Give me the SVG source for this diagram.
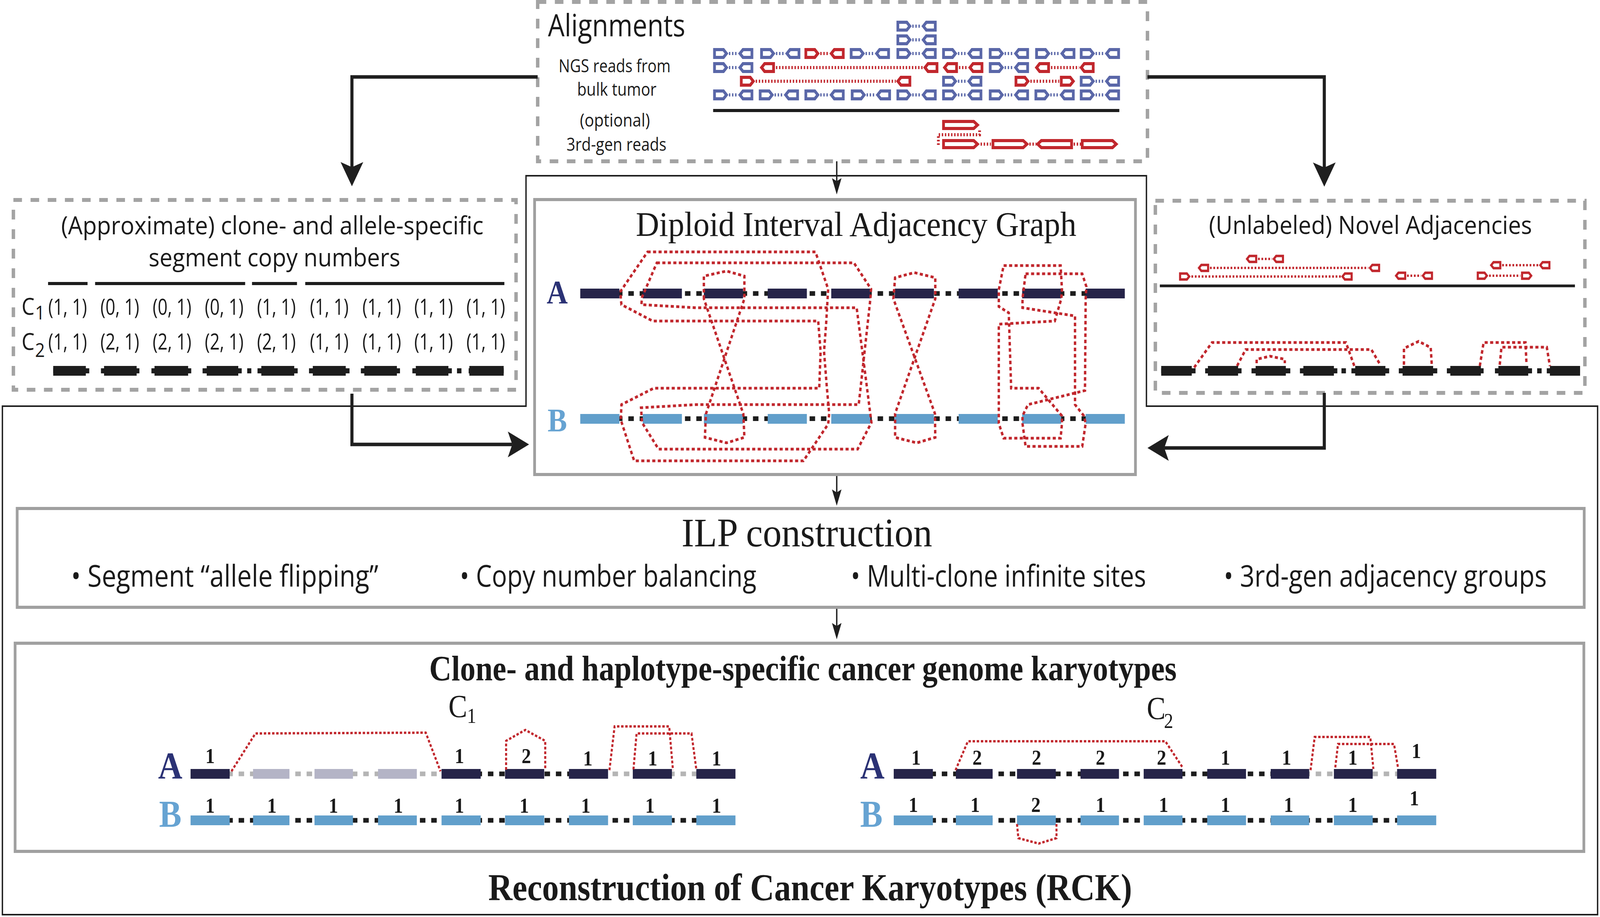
<svg xmlns="http://www.w3.org/2000/svg" width="4660" height="2348" viewBox="0 0 4660 2348" preserveAspectRatio="none">
<style>
:root{width:100vw;height:100vh}
.dbox{fill:none;stroke:#a3a3a3;stroke-width:10;stroke-dasharray:25 25}
.sbox{fill:none;stroke:#a0a0a0;stroke-width:8}
.frame{fill:none;stroke:#1f1f1f;stroke-width:4}
.arw{fill:none;stroke:#1f1f1f;stroke-width:9}
.arws{fill:none;stroke:#1f1f1f;stroke-width:4}
.sans{font-family:"Open Sans","Noto Sans","Liberation Sans",sans-serif;fill:#1a1a1a}
.serif{font-family:"Liberation Serif","DejaVu Serif",serif;fill:#1a1a1a}
.adj{fill:none;stroke:#c1272d;stroke-width:7;stroke-dasharray:9 7}
.adjk{fill:none;stroke:#c1272d;stroke-width:6;stroke-dasharray:7 5}
.navy{fill:#262449}
.lblue{fill:#619fcb}
.gseg{fill:#b4b4c6}
.bk{fill:#1d1d1d}
.dots{fill:none;stroke:#1d1d1d;stroke-width:12;stroke-dasharray:16 17}
.gdots{fill:none;stroke:#b5b5b5;stroke-width:12;stroke-dasharray:16 17}
.rb{fill:#fff;stroke:#5a67a8;stroke-width:8}
.rr{fill:#fff;stroke:#c1272d;stroke-width:8}
.pcb{fill:none;stroke:#5a67a8;stroke-width:8;stroke-dasharray:4 5}
.pcr{fill:none;stroke:#c1272d;stroke-width:8;stroke-dasharray:4 5}
.pcs{fill:none;stroke:#c1272d;stroke-width:6;stroke-dasharray:5 5}
.line{fill:none;stroke:#1d1d1d}
.labA{font-family:"Liberation Serif","DejaVu Serif",serif;font-weight:bold;fill:#2b3275}
.labB{font-family:"Liberation Serif","DejaVu Serif",serif;font-weight:bold;fill:#66a3d2}
.num{font-family:"Liberation Serif","DejaVu Serif",serif;font-weight:bold;fill:#1a1a1a;font-size:55px;text-anchor:middle}
.val{font-family:"Open Sans","Noto Sans","Liberation Sans",sans-serif;fill:#1a1a1a;font-size:56px;text-anchor:middle}
</style>
<defs>
<path id="rR" d="M4,-10 H30 L39,0 L30,10 H4 Z"/>
<path id="rL" d="M39,-10 H13 L4,0 L13,10 H39 Z"/>
<path id="lR" d="M4,-9 H92 L103,0 L92,9 H4 Z"/>
<path id="lL" d="M103,-9 H15 L4,0 L15,9 H103 Z"/>
<marker id="ah" viewBox="0 0 62 66" refX="13" refY="33" markerWidth="62" markerHeight="66" markerUnits="userSpaceOnUse" orient="auto"><path d="M0,0 L62,33 L0,66 L13,33 Z" fill="#1f1f1f"/></marker>
<marker id="ahs" viewBox="0 0 42 28" refX="8" refY="14" markerWidth="42" markerHeight="28" markerUnits="userSpaceOnUse" orient="auto"><path d="M0,0 L42,14 L0,28 L8,14 Z" fill="#1f1f1f"/></marker>
</defs>
<rect width="4660" height="2348" fill="#ffffff"/>

<g id="rck-frame">
<path class="frame" d="M1532,450 H3339 V1040 H4653 V2342 H7 V1040 H1532 Z"/>
<text class="serif" x="1422" y="2305" font-size="98" font-weight="bold" textLength="1875" lengthAdjust="spacingAndGlyphs">Reconstruction of Cancer Karyotypes (RCK)</text>
</g>

<g id="alignments">
<rect class="dbox" x="1566" y="5" width="1776" height="408"/>
<text class="sans" x="1596" y="93" font-size="78" textLength="400" lengthAdjust="spacingAndGlyphs">Alignments</text>
<text class="sans" x="1627" y="185" font-size="46" textLength="326" lengthAdjust="spacingAndGlyphs">NGS reads from</text>
<text class="sans" x="1681" y="245" font-size="46" textLength="231" lengthAdjust="spacingAndGlyphs">bulk tumor</text>
<text class="sans" x="1689" y="324" font-size="46" textLength="204" lengthAdjust="spacingAndGlyphs">(optional)</text>
<text class="sans" x="1650" y="386" font-size="46" textLength="291" lengthAdjust="spacingAndGlyphs">3rd-gen reads</text>
<use href="#rR" x="2611" y="67" class="rb"/><use href="#rL" x="2685" y="67" class="rb"/><path class="pcb" d="M2657,67 H2683"/>
<use href="#rR" x="2611" y="102" class="rb"/><use href="#rL" x="2685" y="102" class="rb"/><path class="pcb" d="M2657,102 H2683"/>
<use href="#rR" x="2077" y="137" class="rb"/><use href="#rL" x="2151" y="137" class="rb"/><path class="pcb" d="M2123,137 H2149"/>
<use href="#rR" x="2214" y="137" class="rb"/><use href="#rL" x="2288" y="137" class="rb"/><path class="pcb" d="M2260,137 H2286"/>
<use href="#rR" x="2343" y="137" class="rr"/><use href="#rL" x="2417" y="137" class="rr"/><path class="pcr" d="M2389,137 H2415"/>
<use href="#rR" x="2475" y="137" class="rb"/><use href="#rL" x="2549" y="137" class="rb"/><path class="pcb" d="M2521,137 H2547"/>
<use href="#rR" x="2611" y="137" class="rb"/><use href="#rL" x="2685" y="137" class="rb"/><path class="pcb" d="M2657,137 H2683"/>
<use href="#rR" x="2744" y="137" class="rb"/><use href="#rL" x="2818" y="137" class="rb"/><path class="pcb" d="M2790,137 H2816"/>
<use href="#rR" x="2880" y="137" class="rb"/><use href="#rL" x="2954" y="137" class="rb"/><path class="pcb" d="M2926,137 H2952"/>
<use href="#rR" x="3015" y="137" class="rb"/><use href="#rL" x="3089" y="137" class="rb"/><path class="pcb" d="M3061,137 H3087"/>
<use href="#rR" x="3145" y="137" class="rb"/><use href="#rL" x="3219" y="137" class="rb"/><path class="pcb" d="M3191,137 H3217"/>
<use href="#rR" x="2077" y="173" class="rb"/><use href="#rL" x="2151" y="173" class="rb"/><path class="pcb" d="M2123,173 H2149"/>
<use href="#rL" x="2214" y="173" class="rr"/><use href="#rL" x="2690" y="173" class="rr"/><path class="pcr" d="M2260,173 H2688"/>
<use href="#rL" x="2747" y="173" class="rr"/><use href="#rL" x="2821" y="173" class="rr"/><path class="pcr" d="M2793,173 H2819"/>
<use href="#rR" x="2880" y="173" class="rb"/><use href="#rL" x="2954" y="173" class="rb"/><path class="pcb" d="M2926,173 H2952"/>
<use href="#rL" x="3015" y="173" class="rr"/><use href="#rL" x="3145" y="173" class="rr"/><path class="pcr" d="M3061,173 H3143"/>
<use href="#rR" x="2155" y="208" class="rr"/><use href="#rL" x="2611" y="208" class="rr"/><path class="pcr" d="M2201,208 H2609"/>
<use href="#rR" x="2744" y="208" class="rb"/><use href="#rL" x="2818" y="208" class="rb"/><path class="pcb" d="M2790,208 H2816"/>
<use href="#rR" x="2955" y="208" class="rr"/><use href="#rR" x="3087" y="208" class="rr"/><path class="pcr" d="M3001,208 H3085"/>
<use href="#rR" x="3145" y="208" class="rb"/><use href="#rL" x="3219" y="208" class="rb"/><path class="pcb" d="M3191,208 H3217"/>
<use href="#rR" x="2077" y="243" class="rb"/><use href="#rL" x="2151" y="243" class="rb"/><path class="pcb" d="M2123,243 H2149"/>
<use href="#rR" x="2210" y="243" class="rb"/><use href="#rL" x="2284" y="243" class="rb"/><path class="pcb" d="M2256,243 H2282"/>
<use href="#rR" x="2343" y="243" class="rb"/><use href="#rL" x="2417" y="243" class="rb"/><path class="pcb" d="M2389,243 H2415"/>
<use href="#rR" x="2478" y="243" class="rb"/><use href="#rL" x="2552" y="243" class="rb"/><path class="pcb" d="M2524,243 H2550"/>
<use href="#rR" x="2611" y="243" class="rb"/><use href="#rL" x="2685" y="243" class="rb"/><path class="pcb" d="M2657,243 H2683"/>
<use href="#rR" x="2744" y="243" class="rb"/><use href="#rL" x="2818" y="243" class="rb"/><path class="pcb" d="M2790,243 H2816"/>
<use href="#rR" x="2880" y="243" class="rb"/><use href="#rL" x="2954" y="243" class="rb"/><path class="pcb" d="M2926,243 H2952"/>
<use href="#rR" x="3013" y="243" class="rb"/><use href="#rL" x="3087" y="243" class="rb"/><path class="pcb" d="M3059,243 H3085"/>
<use href="#rR" x="3145" y="243" class="rb"/><use href="#rL" x="3219" y="243" class="rb"/><path class="pcb" d="M3191,243 H3217"/>
<path class="line" stroke-width="8" d="M2077,283 H3260"/>
<use href="#lR" x="2744" y="320" class="rr"/>
<path class="pcr" d="M2853,334 V345 H2733 V372"/>
<use href="#lR" x="2744" y="369" class="rr"/>
<use href="#lR" x="2888" y="369" class="rr"/>
<use href="#lL" x="3018" y="369" class="rr"/>
<use href="#lR" x="3148" y="369" class="rr"/>
<path class="pcr" d="M2856,369 H2886 M2998,369 H3018 M3127,369 H3148"/>
</g>

<g id="copy-numbers">
<rect class="dbox" x="39" y="512" width="1464" height="486"/>
<text class="sans" x="178" y="600" font-size="64" textLength="1230" lengthAdjust="spacingAndGlyphs">(Approximate) clone- and allele-specific</text>
<text class="sans" x="433" y="682" font-size="64" textLength="733" lengthAdjust="spacingAndGlyphs">segment copy numbers</text>
<path class="line" stroke-width="8" d="M140,726 H255 M277,726 H714 M734,726 H865 M889,726 H1469"/>
<text class="sans" x="63" y="806" font-size="60">C</text><text class="sans" x="102" y="818" font-size="50">1</text>
<text class="sans" x="63" y="896" font-size="60">C</text><text class="sans" x="102" y="914" font-size="50">2</text>
<g class="val">
<text x="197" y="806" textLength="113" lengthAdjust="spacingAndGlyphs">(1, 1)</text>
<text x="349" y="806" textLength="113" lengthAdjust="spacingAndGlyphs">(0, 1)</text>
<text x="501" y="806" textLength="113" lengthAdjust="spacingAndGlyphs">(0, 1)</text>
<text x="653" y="806" textLength="113" lengthAdjust="spacingAndGlyphs">(0, 1)</text>
<text x="805" y="806" textLength="113" lengthAdjust="spacingAndGlyphs">(1, 1)</text>
<text x="959" y="806" textLength="113" lengthAdjust="spacingAndGlyphs">(1, 1)</text>
<text x="1112" y="806" textLength="113" lengthAdjust="spacingAndGlyphs">(1, 1)</text>
<text x="1263" y="806" textLength="113" lengthAdjust="spacingAndGlyphs">(1, 1)</text>
<text x="1415" y="806" textLength="113" lengthAdjust="spacingAndGlyphs">(1, 1)</text>
<text x="197" y="895" textLength="113" lengthAdjust="spacingAndGlyphs">(1, 1)</text>
<text x="349" y="895" textLength="113" lengthAdjust="spacingAndGlyphs">(2, 1)</text>
<text x="501" y="895" textLength="113" lengthAdjust="spacingAndGlyphs">(2, 1)</text>
<text x="653" y="895" textLength="113" lengthAdjust="spacingAndGlyphs">(2, 1)</text>
<text x="805" y="895" textLength="113" lengthAdjust="spacingAndGlyphs">(2, 1)</text>
<text x="959" y="895" textLength="113" lengthAdjust="spacingAndGlyphs">(1, 1)</text>
<text x="1112" y="895" textLength="113" lengthAdjust="spacingAndGlyphs">(1, 1)</text>
<text x="1263" y="895" textLength="113" lengthAdjust="spacingAndGlyphs">(1, 1)</text>
<text x="1415" y="895" textLength="113" lengthAdjust="spacingAndGlyphs">(1, 1)</text>
</g>
<g class="bk">
<rect x="155" y="943" width="105" height="13"/><rect x="155" y="937" width="95" height="25"/>
<rect x="294" y="943" width="112" height="13"/><rect x="303" y="937" width="95" height="25"/>
<rect x="441" y="943" width="116" height="13"/><rect x="450" y="937" width="98" height="25"/>
<rect x="590" y="943" width="114" height="13"/><rect x="602" y="937" width="92" height="25"/>
<rect x="720" y="943" width="12" height="13"/>
<rect x="750" y="943" width="117" height="13"/><rect x="761" y="937" width="96" height="25"/>
<rect x="900" y="943" width="118" height="13"/><rect x="911" y="937" width="96" height="25"/>
<rect x="1051" y="943" width="114" height="13"/><rect x="1061" y="937" width="95" height="25"/>
<rect x="1201" y="943" width="115" height="13"/><rect x="1211" y="937" width="95" height="25"/>
<rect x="1331" y="943" width="13" height="13"/>
<rect x="1365" y="943" width="102" height="13"/><rect x="1367" y="937" width="100" height="25"/>
</g>
</g>

<g id="novel-adjacencies">
<rect class="dbox" x="3365" y="514" width="1251" height="492"/>
<text class="sans" x="3521" y="599" font-size="64" textLength="941" lengthAdjust="spacingAndGlyphs">(Unlabeled) Novel Adjacencies</text>
<use href="#rL" transform="translate(3629,663) scale(0.76)" class="rr"/><use href="#rL" transform="translate(3707,663) scale(0.76)" class="rr"/><path class="pcs" d="M3664,663 H3705"/>
<use href="#rL" transform="translate(3489,686) scale(0.76)" class="rr"/><use href="#rL" transform="translate(3987,686) scale(0.76)" class="rr"/><path class="pcs" d="M3524,686 H3985"/>
<use href="#rR" transform="translate(3434,708) scale(0.76)" class="rr"/><use href="#rL" transform="translate(3907,708) scale(0.76)" class="rr"/><path class="pcs" d="M3470,708 H3905"/>
<use href="#rL" transform="translate(4063,706) scale(0.76)" class="rr"/><use href="#rL" transform="translate(4141,706) scale(0.76)" class="rr"/><path class="pcs" d="M4098,706 H4139"/>
<use href="#rL" transform="translate(4340,679) scale(0.76)" class="rr"/><use href="#rL" transform="translate(4483,679) scale(0.76)" class="rr"/><path class="pcs" d="M4375,679 H4481"/>
<use href="#rR" transform="translate(4301,706) scale(0.76)" class="rr"/><use href="#rR" transform="translate(4430,706) scale(0.76)" class="rr"/><path class="pcs" d="M4337,706 H4428"/>
<path class="line" stroke-width="7" d="M3378,732 H4587"/>
<path class="adj" d="M3478,941 L3530,877 L3920,877 L3946,941"/>
<path class="adj" d="M3603,937 L3628,895 L3994,895 L4020,934"/>
<path class="adj" d="M3660,930 L3660,920 L3699,912 L3742,920 L3742,930"/>
<path class="adj" d="M4089,934 L4089,892 L4132,874 L4167,890 L4170,934"/>
<path class="adj" d="M4310,937 L4321,877 L4443,877 L4446,934"/>
<path class="adj" d="M4368,934 L4373,889 L4505,889 L4514,937"/>
<g class="bk">
<rect x="3382" y="943" width="100" height="13"/><rect x="3382" y="937" width="89" height="25"/>
<rect x="3510" y="943" width="106" height="13"/><rect x="3518" y="937" width="88" height="25"/>
<rect x="3645" y="943" width="113" height="13"/><rect x="3657" y="937" width="88" height="25"/>
<rect x="3786" y="943" width="109" height="13"/><rect x="3796" y="937" width="89" height="25"/>
<rect x="3907" y="943" width="13" height="13"/>
<rect x="3936" y="943" width="110" height="13"/><rect x="3947" y="937" width="88" height="25"/>
<rect x="4074" y="943" width="112" height="13"/><rect x="4085" y="937" width="89" height="25"/>
<rect x="4214" y="943" width="107" height="13"/><rect x="4224" y="937" width="89" height="25"/>
<rect x="4354" y="943" width="108" height="13"/><rect x="4364" y="937" width="87" height="25"/>
<rect x="4477" y="943" width="13" height="13"/>
<rect x="4505" y="943" width="97" height="13"/><rect x="4514" y="937" width="88" height="25"/>
</g>
</g>

<g id="diag">
<rect class="sbox" x="1557" y="511" width="1750" height="704" fill="#fff"/>
<text class="serif" x="1852" y="604" font-size="89" textLength="1283" lengthAdjust="spacingAndGlyphs">Diploid Interval Adjacency Graph</text>
<text class="labA" x="1623" y="777" font-size="85" text-anchor="middle">A</text>
<text class="labB" x="1623" y="1105" font-size="85" text-anchor="middle">B</text>
<path class="dots" stroke-dashoffset="25" d="M1690,751.5 H3276"/>
<path class="dots" stroke-dashoffset="25" d="M1690,1072 H3276"/>
<g class="navy">
<rect x="1690" y="739" width="114" height="25"/><rect x="1872" y="739" width="114" height="25"/><rect x="2050" y="739" width="114" height="25"/>
<rect x="2236" y="739" width="114" height="25"/><rect x="2421" y="739" width="114" height="25"/><rect x="2606" y="739" width="114" height="25"/>
<rect x="2792" y="739" width="114" height="25"/><rect x="2977" y="739" width="114" height="25"/><rect x="3162" y="739" width="114" height="25"/>
</g>
<g class="lblue">
<rect x="1690" y="1060" width="114" height="25"/><rect x="1872" y="1060" width="114" height="25"/><rect x="2050" y="1060" width="114" height="25"/>
<rect x="2236" y="1060" width="114" height="25"/><rect x="2421" y="1060" width="114" height="25"/><rect x="2606" y="1060" width="114" height="25"/>
<rect x="2792" y="1060" width="114" height="25"/><rect x="2977" y="1060" width="114" height="25"/><rect x="3162" y="1060" width="114" height="25"/>
</g>
<path class="adj" d="M1886,645 L2375,645 L2412,740 L2406,830 L2400,900 L2408,990 L2415,1059 L2412,1086 L2340,1180 L1847,1180 L1808,1075 L1810,1036 L1904,994 L2386,994 L2390,900 L2383,822 L1901,822 L1810,780 L1808,765 L1808,745 Z"/>
<path class="adj" d="M1913,673 L2487,673 L2537,740 L2535,765 L2515,925 L2501,1036 L2027,1036 L1867,1044 L1870,1082 L1918,1150 L2498,1150 L2538,1082 L2518,944 L2495,788 L2027,788 L1868,780 L1870,761 Z"/>
<path class="adj" d="M2050,765 L2050,707 L2116,694 L2168,707 L2168,765 L2056,1060 L2053,1120 L2116,1134 L2168,1120 L2165,1060 Z"/>
<path class="adj" d="M2602,765 L2607,711 L2663,698 L2724,711 L2724,765 L2607,1059 L2607,1120 L2670,1134 L2724,1120 L2723,1059 Z"/>
<path class="adj" d="M2923,680 L3089,680 L3093,742 L3091,765 L3072,822 L2909,830 L2909,1084 L2923,1122 L3089,1122 L3093,1084 L3093,1065 L3025,994 L2945,994 L2938,801 L2909,785 L2909,742 Z"/>
<path class="adj" d="M2987,701 L3152,701 L3164,734 L3162,765 L3160,1000 L2994,1036 L2978,1065 L2978,1084 L2987,1143 L3152,1143 L3162,1084 L3157,1065 L3131,1036 L3131,809 L2978,788 L2978,765 Z"/>
</g>

<g id="ilp">
<rect class="sbox" x="50" y="1302" width="4564" height="253"/>
<text class="serif" x="1985" y="1399" font-size="104" textLength="730" lengthAdjust="spacingAndGlyphs">ILP construction</text>
<text class="sans" x="207" y="1502" font-size="76" textLength="895" lengthAdjust="spacingAndGlyphs">• Segment “allele flipping”</text>
<text class="sans" x="1339" y="1502" font-size="76" textLength="864" lengthAdjust="spacingAndGlyphs">• Copy number balancing</text>
<text class="sans" x="2478" y="1502" font-size="76" textLength="860" lengthAdjust="spacingAndGlyphs">• Multi-clone infinite sites</text>
<text class="sans" x="3564" y="1502" font-size="76" textLength="941" lengthAdjust="spacingAndGlyphs">• 3rd-gen adjacency groups</text>
</g>

<g id="karyotypes">
<rect class="sbox" x="44" y="1647" width="4569" height="533"/>
<text class="serif" x="1250" y="1742" font-size="90" font-weight="bold" textLength="2177" lengthAdjust="spacingAndGlyphs">Clone- and haplotype-specific cancer genome karyotypes</text>
<text class="serif" x="1306" y="1836" font-size="82">C</text><text class="serif" x="1360" y="1851" font-size="54">1</text>
<text class="serif" x="3340" y="1841" font-size="82">C</text><text class="serif" x="3390" y="1864" font-size="54">2</text>
<text class="labA" x="496" y="1993" font-size="98" text-anchor="middle">A</text>
<text class="labB" x="496" y="2117" font-size="98" text-anchor="middle">B</text>
<text class="labA" x="2541" y="1993" font-size="98" text-anchor="middle">A</text>
<text class="labB" x="2538" y="2117" font-size="98" text-anchor="middle">B</text>
<path class="gdots" stroke-dashoffset="25" d="M555,1981.5 H1290"/>
<path class="dots" stroke-dashoffset="1" d="M1290,1981.5 H1770"/>
<path class="gdots" stroke-dashoffset="19" d="M1770,1981.5 H2142"/>
<path class="dots" stroke-dashoffset="25" d="M555,2100.5 H2142"/>
<g class="navy">
<rect x="555" y="1969" width="114" height="25"/><rect x="1286" y="1969" width="114" height="25"/><rect x="1471" y="1969" width="114" height="25"/>
<rect x="1657" y="1969" width="114" height="25"/><rect x="1843" y="1969" width="114" height="25"/><rect x="2028" y="1969" width="114" height="25"/>
</g>
<g class="gseg">
<rect x="737" y="1969" width="106" height="25"/><rect x="916" y="1969" width="112" height="25"/><rect x="1101" y="1969" width="113" height="25"/>
</g>
<g class="lblue">
<rect x="555" y="2088" width="114" height="25"/><rect x="737" y="2088" width="106" height="25"/><rect x="916" y="2088" width="112" height="25"/>
<rect x="1101" y="2088" width="113" height="25"/><rect x="1286" y="2088" width="114" height="25"/><rect x="1471" y="2088" width="114" height="25"/>
<rect x="1657" y="2088" width="114" height="25"/><rect x="1843" y="2088" width="114" height="25"/><rect x="2028" y="2088" width="114" height="25"/>
</g>
<path class="adjk" d="M674,1975 L744,1878 L1240,1876 L1283,1975"/>
<path class="adjk" d="M1474,1971 L1474,1897 L1530,1869 L1588,1897 L1588,1971"/>
<path class="adjk" d="M1775,1972 L1790,1860 L1949,1860 L1960,1972"/>
<path class="adjk" d="M1845,1970 L1854,1878 L2014,1878 L2028,1970"/>
<g class="num">
<text x="612" y="1954">1</text><text x="1338" y="1954">1</text><text x="1533" y="1954">2</text>
<text x="1712" y="1960">1</text><text x="1901" y="1960">1</text><text x="2087" y="1960">1</text>
<text x="612" y="2081">1</text><text x="792" y="2081">1</text><text x="971" y="2081">1</text>
<text x="1160" y="2081">1</text><text x="1338" y="2081">1</text><text x="1527" y="2081">1</text>
<text x="1706" y="2081">1</text><text x="1893" y="2081">1</text><text x="2087" y="2081">1</text>
</g>
<path class="dots" stroke-dashoffset="25" d="M2603,1981.5 H3813"/>
<path class="gdots" stroke-dashoffset="14" d="M3813,1981.5 H4183"/>
<path class="dots" stroke-dashoffset="25" d="M2603,2100.5 H4183"/>
<g class="navy">
<rect x="2603" y="1969" width="114" height="25"/><rect x="2784" y="1969" width="107" height="25"/><rect x="2962" y="1969" width="113" height="25"/>
<rect x="3147" y="1969" width="112" height="25"/><rect x="3331" y="1969" width="113" height="25"/><rect x="3516" y="1969" width="113" height="25"/>
<rect x="3701" y="1969" width="112" height="25"/><rect x="3885" y="1969" width="113" height="25"/><rect x="4069" y="1969" width="114" height="25"/>
</g>
<g class="lblue">
<rect x="2603" y="2088" width="114" height="25"/><rect x="2784" y="2088" width="107" height="25"/><rect x="2962" y="2088" width="113" height="25"/>
<rect x="3147" y="2088" width="112" height="25"/><rect x="3331" y="2088" width="113" height="25"/><rect x="3516" y="2088" width="113" height="25"/>
<rect x="3701" y="2088" width="112" height="25"/><rect x="3885" y="2088" width="113" height="25"/><rect x="4069" y="2088" width="114" height="25"/>
</g>
<path class="adjk" d="M2783,1972 L2819,1898 L3394,1898 L3445,1966"/>
<path class="adjk" d="M3817,1972 L3829,1887 L3991,1887 L4000,1969"/>
<path class="adjk" d="M3889,1965 L3897,1905 L4060,1905 L4072,1967"/>
<path class="adjk" d="M2962,2110 L2966,2146 L3025,2160 L3077,2146 L3077,2110"/>
<g class="num">
<text x="2668" y="1958">1</text><text x="2846" y="1958">2</text><text x="3019" y="1958">2</text>
<text x="3205" y="1958">2</text><text x="3383" y="1958">2</text><text x="3569" y="1958">1</text>
<text x="3747" y="1958">1</text><text x="3940" y="1958">1</text><text x="4125" y="1941">1</text>
<text x="2660" y="2079">1</text><text x="2840" y="2079">1</text><text x="3017" y="2079">2</text>
<text x="3205" y="2079">1</text><text x="3389" y="2079">1</text><text x="3569" y="2079">1</text>
<text x="3753" y="2079">1</text><text x="3940" y="2079">1</text><text x="4119" y="2062">1</text>
</g>
</g>

<g id="connectors">
<path class="arw" marker-end="url(#ah)" d="M1566,197 H1025 V428"/>
<path class="arw" marker-end="url(#ah)" d="M3342,197 H3857 V429"/>
<path class="arws" marker-end="url(#ahs)" d="M2437,413 V464"/>
<path class="arw" marker-end="url(#ah)" d="M1025,1008 V1138 H1492"/>
<path class="arw" marker-end="url(#ah)" d="M3857,1006 V1147 H3391"/>
<path class="arws" marker-end="url(#ahs)" d="M2437,1219 V1261"/>
<path class="arws" marker-end="url(#ahs)" d="M2437,1559 V1603"/>
</g>
</svg>
